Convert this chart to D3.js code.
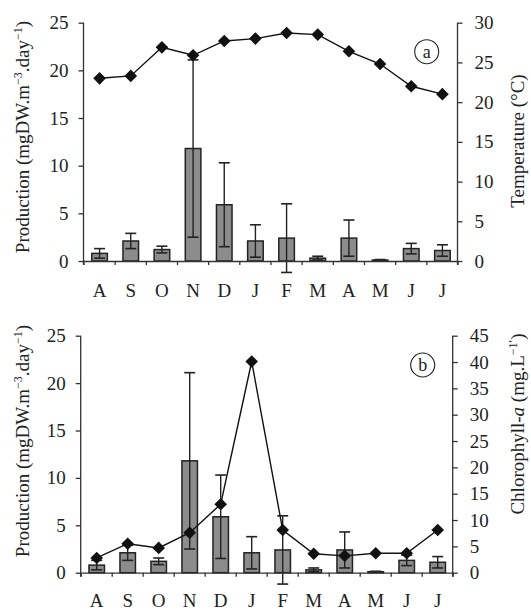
<!doctype html>
<html lang="en">
<head>
  <meta charset="UTF-8">
  <title>Production</title>
  <script src="https://cdn.jsdelivr.net/npm/d3@7"></script>
  <style>
    body { margin: 0; background: #fff; }
    text { font-family: "Liberation Serif", "Times New Roman", serif; fill: #222; }
  </style>
</head>
<body>
<div id="container"></div>
<script type="text/javascript">
var months = ['A', 'S', 'O', 'N', 'D', 'J', 'F', 'M', 'A', 'M', 'J', 'J'];
var production = [0.8, 2.1, 1.2, 11.8, 5.9, 2.1, 2.4, 0.3, 2.4, 0.1, 1.3, 1.1];
var productionErr = [0.5, 0.8, 0.35, 9.3, 4.4, 1.7, 3.6, 0.2, 1.9, 0.05, 0.55, 0.6];
var temperature = [23.0, 23.3, 26.9, 25.9, 27.7, 28.0, 28.7, 28.5, 26.4, 24.8, 22.0, 21.0];
var chlorophyll = [2.8, 5.5, 4.7, 7.6, 13.0, 40.1, 8.1, 3.6, 3.2, 3.7, 3.7, 8.1];
var prodTicks = [0, 5, 10, 15, 20, 25];
var tempTicks = [0, 5, 10, 15, 20, 25, 30];
var chlTicks = [0, 5, 10, 15, 20, 25, 30, 35, 40, 45];

var svg = d3.select('#container').append('svg')
  .attr('width', 531)
  .attr('height', 612);

var axisColor = '#333';

function drawPanel(opt) {
  var g = svg.append('g');
  var x = d3.scaleLinear().domain([0, months.length]).range([opt.left, opt.right]);
  var band = d3.scaleBand().domain(d3.range(months.length)).range([opt.left, opt.right]);
  var yL = d3.scaleLinear().domain([0, 25]).range([opt.bottom, opt.top]);
  var yR = d3.scaleLinear().domain([0, opt.rightMax]).range([opt.bottom, opt.top]);

  // bars
  var barW = band.bandwidth() * 0.5;
  g.selectAll('.bar').data(production).enter().append('rect')
    .attr('x', function(d, i) { return band(i) + (band.bandwidth() - barW) / 2 + 0.5; })
    .attr('y', function(d) { return yL(d); })
    .attr('width', barW)
    .attr('height', function(d) { return opt.bottom - yL(d); })
    .attr('fill', '#8c8c8c')
    .attr('stroke', '#222')
    .attr('stroke-width', 1.5);

  // error bars
  var cap = 5.5;
  production.forEach(function(d, i) {
    var cx = band(i) + band.bandwidth() / 2 + 0.5;
    var hi = yL(d + productionErr[i]), lo = yL(d - productionErr[i]);
    g.append('line').attr('x1', cx).attr('x2', cx).attr('y1', hi).attr('y2', lo)
      .attr('stroke', '#222').attr('stroke-width', 1.4);
    [hi, lo].forEach(function(yy) {
      g.append('line').attr('x1', cx - cap).attr('x2', cx + cap).attr('y1', yy).attr('y2', yy)
        .attr('stroke', '#222').attr('stroke-width', 1.6);
    });
  });

  // axes
  var bottomAxis = d3.axisBottom(x).tickValues(d3.range(months.length + 1))
    .tickSize(4).tickSizeOuter(0).tickFormat('');
  var ga = g.append('g').attr('transform', 'translate(0,' + opt.bottom + ')').call(bottomAxis);

  var leftAxis = d3.axisLeft(yL).tickValues(prodTicks).tickSize(5).tickSizeOuter(0).tickPadding(10);
  var gl = g.append('g').attr('transform', 'translate(' + opt.left + ',0)').call(leftAxis);

  var rightAxis = d3.axisRight(yR).tickValues(opt.rightTicks).tickSize(5).tickSizeOuter(0).tickPadding(12);
  var gr = g.append('g').attr('transform', 'translate(' + opt.right + ',0)').call(rightAxis);

  [ga, gl, gr].forEach(function(a) {
    a.selectAll('path, line').attr('stroke', axisColor).attr('stroke-width', 1.3);
    a.selectAll('text').style('font-family', '"Liberation Serif", serif')
      .style('font-size', '19px').attr('fill', '#222');
  });
  gl.select('.domain').remove();
  gl.append('line').attr('x1', 0).attr('x2', 0).attr('y1', opt.top).attr('y2', opt.bottom + 4)
    .attr('stroke', axisColor).attr('stroke-width', 1.3);
  gr.select('.domain').remove();
  gr.append('line').attr('x1', 0).attr('x2', 0).attr('y1', opt.top).attr('y2', opt.bottom + 4)
    .attr('stroke', axisColor).attr('stroke-width', 1.3);

  // month labels
  g.selectAll('.month').data(months).enter().append('text')
    .attr('x', function(d, i) { return band(i) + band.bandwidth() / 2 + 0.5; })
    .attr('y', opt.labelY)
    .attr('text-anchor', 'middle')
    .style('font-size', '19px')
    .text(function(d) { return d; });

  // line series
  var line = d3.line()
    .x(function(d, i) { return band(i) + band.bandwidth() / 2 + 0.5; })
    .y(function(d) { return yR(d); });
  g.append('path').datum(opt.series).attr('d', line)
    .attr('fill', 'none').attr('stroke', '#111').attr('stroke-width', 1.4);
  g.selectAll('.pt').data(opt.series).enter().append('path')
    .attr('d', d3.symbol().type(d3.symbolSquare).size(80))
    .attr('transform', function(d, i) {
      return 'translate(' + (band(i) + band.bandwidth() / 2 + 0.5) + ',' + yR(d) + ') rotate(45)';
    })
    .attr('fill', '#111');

  // panel letter
  g.append('circle').attr('cx', opt.letterX).attr('cy', opt.letterY).attr('r', 12)
    .attr('fill', 'none').attr('stroke', '#222').attr('stroke-width', 1.1);
  g.append('text').attr('x', opt.letterX).attr('y', opt.letterY + 6)
    .attr('text-anchor', 'middle').style('font-size', '18px').text(opt.letter);

  // axis titles
  var lt = g.append('text')
    .attr('transform', 'translate(29,' + opt.leftTitleY + ') rotate(-90)')
    .attr('text-anchor', 'middle').style('font-size', '19px');
  lt.append('tspan').text('Production (mgDW.m');
  lt.append('tspan').attr('dy', -7).style('font-size', '12px').text('\u22123');
  lt.append('tspan').attr('dy', 7).text('.day');
  lt.append('tspan').attr('dy', -7).style('font-size', '12px').text('\u22121');
  lt.append('tspan').attr('dy', 7).text(')');

  var rt = g.append('text')
    .attr('transform', 'translate(' + opt.rightTitleX + ',' + opt.rightTitleY + ') rotate(-90)')
    .attr('text-anchor', 'middle').style('font-size', '19px');
  opt.rightTitle(rt);
}

drawPanel({
  left: 83.5, right: 457.5, top: 22.7, bottom: 261, labelY: 297,
  rightMax: 30, rightTicks: tempTicks, series: temperature,
  letter: 'a', letterX: 426.7, letterY: 51.7,
  leftTitleY: 137, rightTitleX: 524, rightTitleY: 141,
  rightTitle: function(t) { t.text('Temperature (\u00B0C)'); }
});

drawPanel({
  left: 80.7, right: 452.7, top: 335.7, bottom: 572.7, labelY: 607,
  rightMax: 45, rightTicks: chlTicks, series: chlorophyll,
  letter: 'b', letterX: 422.7, letterY: 365,
  leftTitleY: 441, rightTitleX: 524, rightTitleY: 424,
  rightTitle: function(t) {
    t.append('tspan').text('Chlorophyll-');
    t.append('tspan').style('font-style', 'italic').text('a');
    t.append('tspan').text(' (mg.L');
    t.append('tspan').attr('dy', -7).style('font-size', '12px').text('\u22121\u2032');
    t.append('tspan').attr('dy', 7).text(')');
  }
});
</script>
</body>
</html>
